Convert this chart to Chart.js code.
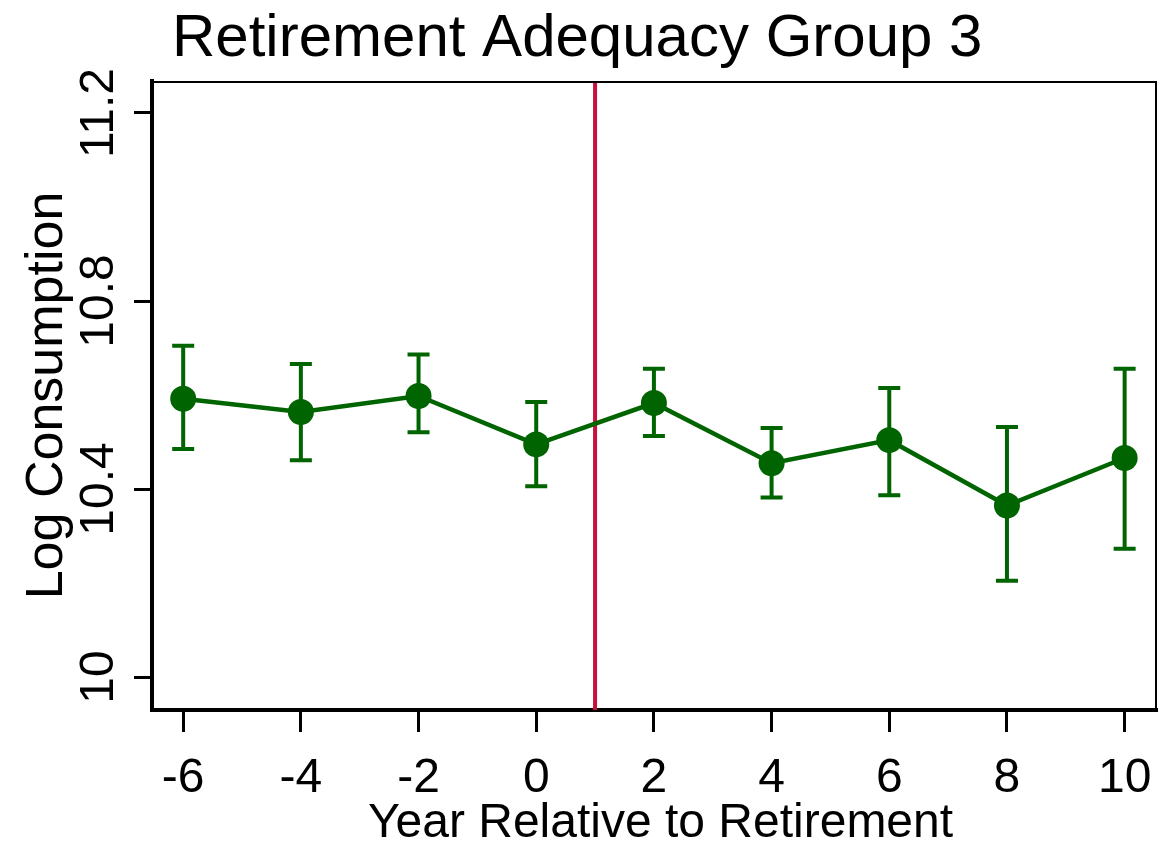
<!DOCTYPE html>
<html>
<head>
<meta charset="utf-8">
<script src="https://cdn.jsdelivr.net/npm/chart.js@4.4.1/dist/chart.umd.min.js"></script>
<style>
  html, body { margin: 0; padding: 0; background: #fff; }
  #wrap { width: 1173px; height: 849px; }
</style>
</head>
<body>
<div id="wrap"><canvas id="c" width="1173" height="849"></canvas></div>
<script>
// Years relative to retirement and estimated log consumption with 95% bounds
const years = [-6, -4, -2, 0, 2, 4, 6, 8, 10];
const logConsumption = [10.592, 10.564, 10.598, 10.495, 10.583, 10.455, 10.504, 10.365, 10.466];
const ciLower = [10.485, 10.461, 10.521, 10.406, 10.513, 10.382, 10.387, 10.205, 10.273];
const ciUpper = [10.705, 10.666, 10.686, 10.585, 10.656, 10.530, 10.615, 10.532, 10.656];
const xTicks = [-6, -4, -2, 0, 2, 4, 6, 8, 10];
const yTicks = [10, 10.4, 10.8, 11.2];
const retirementYear = 1;

const FONT = '"Liberation Sans", Arial, Helvetica, sans-serif';
const GREEN = '#006400';
const RED = '#c8103c';

// Whiskers with caps for each estimate, plus the retirement marker line
const errorBarPlugin = {
  id: 'errorBars',
  beforeDatasetsDraw(chart) {
    const { ctx, chartArea, scales: { x, y } } = chart;
    ctx.save();
    // retirement line
    const rx = x.getPixelForValue(retirementYear);
    ctx.strokeStyle = RED;
    ctx.lineWidth = 4;
    ctx.beginPath();
    ctx.moveTo(rx, chartArea.top);
    ctx.lineTo(rx, chartArea.bottom);
    ctx.stroke();
    // whiskers
    ctx.strokeStyle = GREEN;
    ctx.lineWidth = 4;
    ctx.lineCap = 'butt';
    years.forEach((yr, i) => {
      const px = x.getPixelForValue(yr);
      const lo = y.getPixelForValue(ciLower[i]);
      const hi = y.getPixelForValue(ciUpper[i]);
      ctx.beginPath();
      ctx.moveTo(px, lo); ctx.lineTo(px, hi);
      ctx.moveTo(px - 11, lo); ctx.lineTo(px + 11, lo);
      ctx.moveTo(px - 11, hi); ctx.lineTo(px + 11, hi);
      ctx.stroke();
    });
    ctx.restore();
  }
};

// Frame, rotated y tick labels, axis titles and chart title
const decorPlugin = {
  id: 'decor',
  afterDraw(chart) {
    const { ctx, chartArea, scales: { y } } = chart;
    ctx.save();
    // top and right frame edges
    ctx.strokeStyle = '#000';
    ctx.lineWidth = 2;
    ctx.beginPath();
    ctx.moveTo(chartArea.left, chartArea.top + 1);
    ctx.lineTo(chartArea.right - 1, chartArea.top + 1);
    ctx.lineTo(chartArea.right - 1, chartArea.bottom);
    ctx.stroke();

    ctx.fillStyle = '#000';
    // y tick labels, rotated
    ctx.font = '48px ' + FONT;
    ctx.textAlign = 'center';
    ctx.textBaseline = 'alphabetic';
    yTicks.forEach(v => {
      const py = y.getPixelForValue(v);
      ctx.save();
      ctx.translate(113, py);
      ctx.rotate(-Math.PI / 2);
      ctx.fillText(String(v), 0, 0);
      ctx.restore();
    });
    // y axis title
    ctx.save();
    ctx.font = '52px ' + FONT;
    ctx.translate(62, (chartArea.top + chartArea.bottom) / 2);
    ctx.rotate(-Math.PI / 2);
    ctx.fillText('Log Consumption', 0, 0);
    ctx.restore();
    // x axis title
    ctx.font = '48px ' + FONT;
    ctx.fillText('Year Relative to Retirement', (chartArea.left + chartArea.right) / 2 + 6, 837);
    // chart title
    ctx.textAlign = 'left';
    ctx.font = '60px ' + FONT;
    ctx.fillText('Retirement Adequacy Group 3', 172, 56);
    ctx.restore();
  }
};

new Chart(document.getElementById('c'), {
  type: 'line',
  data: {
    datasets: [{
      data: years.map((yr, i) => ({ x: yr, y: logConsumption[i] })),
      borderColor: GREEN,
      backgroundColor: GREEN,
      borderWidth: 4.5,
      pointRadius: 13,
      pointHoverRadius: 13,
      pointBackgroundColor: GREEN,
      pointBorderWidth: 0,
      tension: 0
    }]
  },
  options: {
    responsive: false,
    animation: false,
    events: [],
    layout: { padding: { left: 0, top: 81, right: 16, bottom: 0 } },
    plugins: { legend: { display: false }, tooltip: { enabled: false }, title: { display: false } },
    scales: {
      x: {
        type: 'linear',
        min: -6.53,
        max: 10.55,
        afterBuildTicks: s => { s.ticks = xTicks.map(v => ({ value: v })); },
        afterFit: s => { s.height = 139; },
        border: { display: true, color: '#000', width: 4 },
        grid: { drawOnChartArea: false, drawTicks: true, tickLength: 22, tickWidth: 3, tickColor: '#000' },
        ticks: {
          color: '#000',
          font: { family: FONT, size: 48 },
          padding: 18,
          maxRotation: 0,
          autoSkip: false
        }
      },
      y: {
        type: 'linear',
        min: 9.93,
        max: 11.268,
        afterBuildTicks: s => { s.ticks = yTicks.map(v => ({ value: v })); },
        afterFit: s => { s.width = 152; },
        border: { display: true, color: '#000', width: 4 },
        grid: { drawOnChartArea: false, drawTicks: true, tickLength: 18, tickWidth: 3, tickColor: '#000' },
        ticks: { display: false }
      }
    }
  },
  plugins: [errorBarPlugin, decorPlugin]
});
</script>
</body>
</html>
